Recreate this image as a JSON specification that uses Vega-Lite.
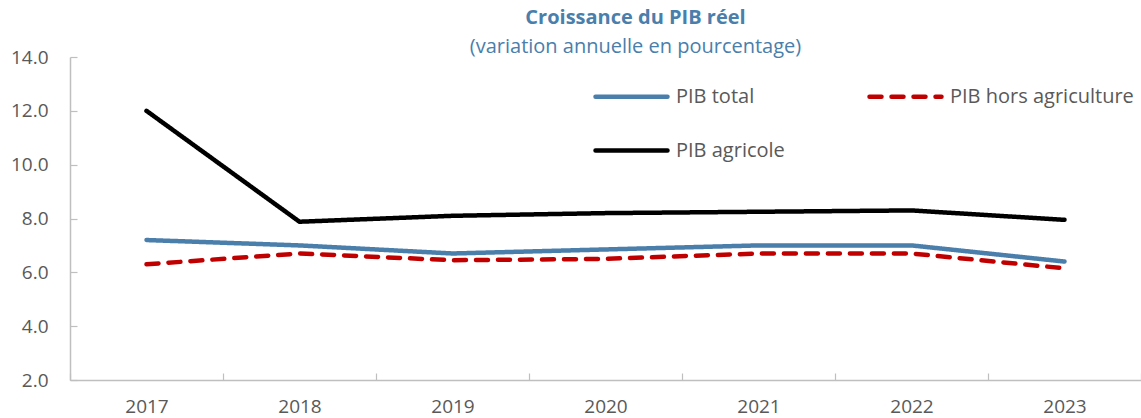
{
  "$schema": "https://vega.github.io/schema/vega-lite/v6.json",
  "width": 1071,
  "height": 323,
  "autosize": {"type": "none"},
  "padding": {"left": 70, "top": 57, "right": 0, "bottom": 38},
  "background": "white",
  "config": {
    "font": "Open Sans",
    "view": {"stroke": null}
  },
  "title": {
    "text": "Croissance du PIB réel",
    "subtitle": "(variation annuelle en pourcentage)",
    "anchor": "middle",
    "dx": 30,
    "offset": -9,
    "font": "Open Sans",
    "fontSize": 20,
    "fontWeight": "bold",
    "color": "#4a7eab",
    "subtitleFont": "Open Sans",
    "subtitleFontSize": 20,
    "subtitleColor": "#4a7eab",
    "subtitlePadding": 9
  },
  "data": {
    "values": [
      {"year": "2017", "series": "PIB total", "value": 7.2},
      {"year": "2018", "series": "PIB total", "value": 7.0},
      {"year": "2019", "series": "PIB total", "value": 6.7},
      {"year": "2020", "series": "PIB total", "value": 6.85},
      {"year": "2021", "series": "PIB total", "value": 7.0},
      {"year": "2022", "series": "PIB total", "value": 7.0},
      {"year": "2023", "series": "PIB total", "value": 6.4},
      {"year": "2017", "series": "PIB agricole", "value": 12.0},
      {"year": "2018", "series": "PIB agricole", "value": 7.88},
      {"year": "2019", "series": "PIB agricole", "value": 8.1},
      {"year": "2020", "series": "PIB agricole", "value": 8.2},
      {"year": "2021", "series": "PIB agricole", "value": 8.25},
      {"year": "2022", "series": "PIB agricole", "value": 8.3},
      {"year": "2023", "series": "PIB agricole", "value": 7.95},
      {"year": "2017", "series": "PIB hors agriculture", "value": 6.3},
      {"year": "2018", "series": "PIB hors agriculture", "value": 6.7},
      {"year": "2019", "series": "PIB hors agriculture", "value": 6.45},
      {"year": "2020", "series": "PIB hors agriculture", "value": 6.5},
      {"year": "2021", "series": "PIB hors agriculture", "value": 6.7},
      {"year": "2022", "series": "PIB hors agriculture", "value": 6.7},
      {"year": "2023", "series": "PIB hors agriculture", "value": 6.15}
    ]
  },
  "mark": {"type": "line", "strokeWidth": 4.5, "strokeCap": "round", "strokeJoin": "miter"},
  "encoding": {
    "x": {
      "field": "year",
      "type": "nominal",
      "bandPosition": 0.5,
      "scale": {"type": "band", "paddingInner": 0, "paddingOuter": 0},
      "axis": {
        "title": null,
        "labelAngle": 0,
        "tickBand": "extent",
        "tickSize": -7,
        "labelPadding": 24,
        "labelFontSize": 19,
        "labelColor": "#595959",
        "domainColor": "#bfbfbf",
        "domainWidth": 1.5,
        "tickColor": "#bfbfbf",
        "tickWidth": 1.2,
        "grid": false
      }
    },
    "y": {
      "field": "value",
      "type": "quantitative",
      "scale": {"domain": [2, 14], "nice": false, "zero": false},
      "axis": {
        "title": null,
        "values": [2, 4, 6, 8, 10, 12, 14],
        "format": ".1f",
        "tickSize": -7,
        "labelPadding": 29,
        "labelFontSize": 19,
        "labelColor": "#595959",
        "domainColor": "#bfbfbf",
        "domainWidth": 1.5,
        "tickColor": "#bfbfbf",
        "tickWidth": 1.2,
        "grid": false
      }
    },
    "color": {
      "field": "series",
      "type": "nominal",
      "sort": ["PIB total", "PIB agricole", "PIB hors agriculture"],
      "scale": {
        "domain": ["PIB total", "PIB agricole", "PIB hors agriculture"],
        "range": ["#4a7eab", "#000000", "#c00000"]
      },
      "legend": {
        "title": null,
        "orient": "none",
        "legendX": 523,
        "legendY": 1,
        "columns": 2,
        "columnPadding": 75,
        "rowPadding": 5,
        "symbolType": "stroke",
        "symbolSize": 5184,
        "symbolStrokeWidth": 4.5,
        "labelFontSize": 20,
        "labelLimit": 400,
        "labelColor": "#595959",
        "labelOffset": 6,
        "encode": {"symbols": {"update": {"strokeCap": {"value": "round"}}}}
      }
    },
    "strokeDash": {
      "field": "series",
      "type": "nominal",
      "sort": ["PIB total", "PIB agricole", "PIB hors agriculture"],
      "scale": {
        "domain": ["PIB total", "PIB agricole", "PIB hors agriculture"],
        "range": [[1, 0], [1, 0], [12, 10]]
      },
      "legend": null
    }
  }
}
